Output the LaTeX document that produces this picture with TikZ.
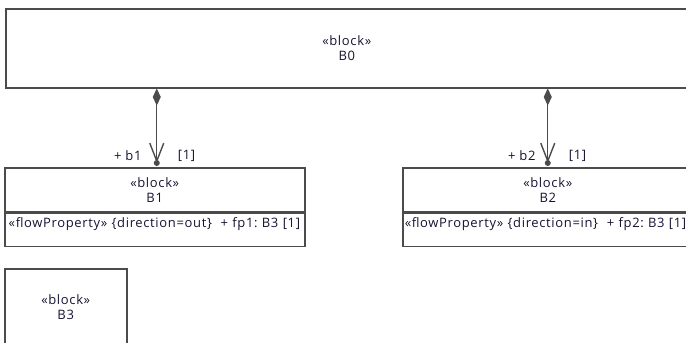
\documentclass[tikz,border=0pt]{standalone}
\usepackage{fontspec}
\setmainfont{Open Sans}[LetterSpace=5]
\frenchspacing
\usetikzlibrary{positioning, arrows.meta}
\definecolor{UMLLine}{RGB}{75,75,75}
\definecolor{UMLText}{RGB}{20,20,50}

\begin{document}
\begin{tikzpicture}[
        x=1pt, y=-1pt,
        block/.style={
            rectangle,
            draw=UMLLine,
            line width=1.5pt,
            align=center,
            anchor=north west,
            inner sep=0pt,
            text=UMLText,
            font=\fontsize{13}{15}\selectfont
        },
        compartment/.style={
            rectangle,
            draw=UMLLine,
            line width=1.5pt,
            align=left,
            inner xsep=4pt,
            inner ysep=4pt,
            text height=10pt,
            text depth=15pt,
            text=UMLText,
            font=\fontsize{13}{15}\selectfont
        },
        part/.style={{Diamond[length=17pt, width=8pt]}-{Straight Barb[length=18pt, width=14pt]}, line width=1.4pt, UMLLine},
        role/.style={text=UMLText, inner sep=0pt, font=\fontsize{13}{13}\selectfont}
    ]
    \useasboundingbox (0,0) rectangle (686,343);

    % Bloques
    \node[block, minimum width=682pt, minimum height=79pt] (b0) at (5,8) {«block»\\B0};
    \node[block, minimum width=300pt, minimum height=44pt] (b1) at (4,167) {«block»\\B1};
    \node[compartment, text width=292pt, below=0pt of b1] (b1fp) {«flowProperty» \{direction=out\}~ + fp1: B3 [1]};
    \node[block, minimum width=290pt, minimum height=44pt] (b2) at (402,167) {«block»\\B2};
    \node[compartment, inner xsep=2pt, text width=286pt, below=0pt of b2] (b2fp) {«flowProperty» \{direction=in\}~ + fp2: B3 [1]};
    \node[block, minimum width=122pt, minimum height=77pt] (b3) at (4,268) {«block»\\B3};

    % Extremos
    \coordinate[above=4pt of b1.north, xshift=2pt] (b1end);
    \coordinate (b2end) at (b2.north |- b1end);

    % Composiciones
    \draw[part] (b0.south -| b1end) -- (b1end);
    \draw[part] (b0.south -| b2end) -- (b2end);
    \fill[UMLLine] (b1end) circle (3pt);
    \fill[UMLLine] (b2end) circle (3pt);

    % Roles
    \node[role, anchor=east, xshift=-15pt, yshift=7pt] (b1role) at (b1end) {+ b1};
    \node[role, anchor=west, xshift=21pt, yshift=7pt] (b1mult) at (b1end) {[1]};
    \node[role, anchor=east, xshift=-12pt, yshift=7pt] (b2role) at (b2end) {+ b2};
    \node[role, anchor=west, xshift=21pt, yshift=7pt] (b2mult) at (b2end) {[1]};

\end{tikzpicture}
\end{document}
